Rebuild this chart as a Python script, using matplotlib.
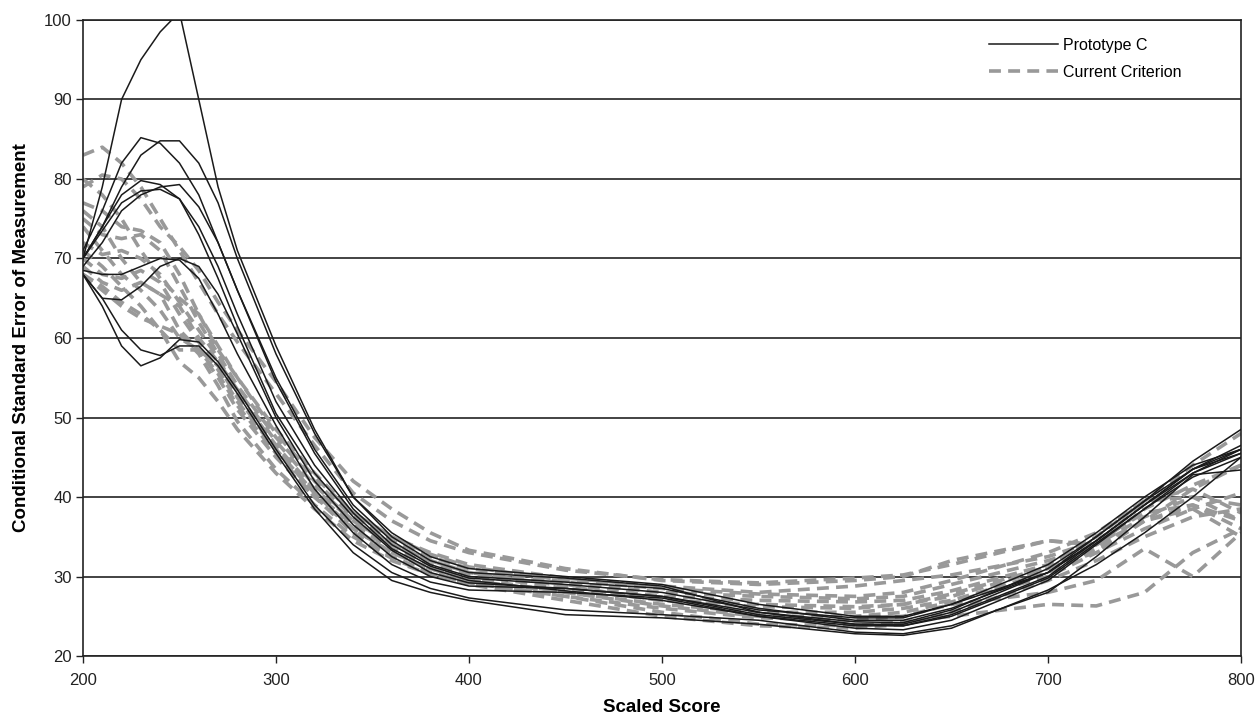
import matplotlib
matplotlib.use("Agg")
import matplotlib.pyplot as plt

plt.rcParams['font.family'] = ['Liberation Sans', 'DejaVu Sans']

# Scaled score grid at which curves were read
scores = [200, 210, 220, 230, 240, 250, 260, 270, 280, 300, 320, 340, 360, 380,
          400, 450, 500, 550, 600, 625, 650, 700, 725, 750, 775, 800]

# Prototype C (solid black) CSEM curves
proto_1 = [70, 79, 90, 95, 98.5, 101, 90, 79, 71, 59, 48.5, 40, 35.5, 32.5, 31, 30, 29, 26.5, 25, 25, 26.5, 30.5, 34.5, 39, 43.5, 46.5]
proto_2 = [71, 76, 82, 85.2, 84.5, 82, 78, 72, 66, 55, 46, 39, 34.5, 31.5, 30, 29.3, 28.5, 26, 24.5, 24.5, 26, 30.5, 34.5, 39, 43.5, 46]
proto_3 = [70, 74, 79, 83, 84.8, 84.8, 82, 77, 70, 58, 48, 40, 35, 32, 30.5, 29.8, 28.8, 25.5, 24.3, 24.2, 25.8, 31, 35, 39.5, 44.5, 48.5]
proto_4 = [70, 74, 78, 79.8, 79.3, 77.5, 73, 67.5, 61.5, 50.5, 43, 37.5, 33.3, 30.5, 29.2, 28.5, 27.5, 25.5, 24, 24, 25.5, 30.5, 35, 39.5, 43.5, 45.5]
proto_5 = [69, 72, 76, 78, 79, 79.3, 76.5, 72, 66, 54.5, 45.5, 38.5, 34, 31.3, 29.8, 29, 28, 25.8, 24.8, 24.8, 26.5, 31.5, 35.5, 40, 44, 46]
proto_6 = [70, 73.5, 77, 78.5, 78.7, 77.5, 74, 69, 63, 52, 44, 38, 33.5, 31, 29.5, 28.2, 27, 25, 23.8, 23.8, 25.2, 30, 34.5, 39, 43, 45.5]
proto_7 = [68.5, 68, 68, 69, 70, 69.8, 67.5, 63, 58, 49, 41, 35.5, 31.5, 29.3, 28.3, 28, 27.3, 25, 23.5, 23.3, 24.5, 29.5, 34, 38.5, 42.5, 45]
proto_8 = [68, 65, 64.8, 66.5, 69, 70, 69, 65.5, 60.5, 50, 42, 36.5, 32.5, 30, 28.8, 28.5, 27.5, 25.2, 24, 23.8, 25, 29.8, 34.2, 38.5, 43, 46]
proto_9 = [68, 64, 59, 56.5, 57.5, 59.8, 59.5, 57, 53.5, 46, 39, 34, 30.5, 28.5, 27.3, 25.8, 25.2, 24.5, 23, 22.8, 23.8, 28, 32.5, 37.5, 42.8, 43.4]
proto_10 = [68, 65, 61, 58.5, 57.8, 59, 59, 56.5, 53, 45.5, 38.5, 33, 29.5, 28, 27, 25.2, 24.8, 24, 22.8, 22.6, 23.5, 28.3, 31.5, 35.5, 40, 45]

# Current Criterion (dashed gray) CSEM curves
crit_1 = [83, 84, 82, 79, 75, 71, 67, 63, 59.5, 53, 46.5, 40.5, 37, 34.5, 33, 30.8, 29.6, 29.2, 29.8, 30.2, 31.5, 34.5, 34, 37.5, 40, 39]
crit_2 = [79, 80.5, 80, 77.5, 74, 71.5, 68.5, 64.5, 61, 54.5, 47.5, 42, 38.5, 35.5, 33.3, 31, 29.5, 29, 29.5, 30, 32, 34.5, 34, 39.5, 41, 38]
crit_3 = [77, 76, 74, 73.5, 72, 68, 63, 58.5, 55, 48.5, 43, 38, 35, 33, 31.5, 29.8, 28.8, 28, 28.8, 29.5, 30.2, 32.5, 34.5, 38, 39, 36]
crit_4 = [75, 73, 72.5, 73, 71, 66.5, 62, 58, 54, 47.5, 42, 37.5, 34.5, 32.5, 31, 29.3, 28, 27.5, 27.2, 27.5, 29, 32, 34, 37, 38.5, 40.5]
crit_5 = [72, 70.5, 71, 70, 68, 64.5, 61, 57.5, 53, 46.5, 41, 37, 34, 32, 30.5, 29, 27.5, 27, 26.8, 27, 28.2, 31.5, 35, 39.5, 44, 48]
crit_6 = [70, 68, 67.5, 68.5, 67, 63, 59.5, 56, 52, 46, 40.5, 36.5, 33.5, 31.5, 30.2, 28.5, 27, 26.2, 26, 26.5, 27.5, 31, 34, 38.5, 41.5, 44]
crit_7 = [69, 67, 66, 67, 65.5, 61, 58.5, 55, 51, 45, 40, 36, 33, 31, 29.8, 28, 26.5, 25.5, 25.5, 26, 27, 30.5, 33.5, 37, 39, 37]
crit_8 = [74, 71, 68, 66, 63.5, 60, 58.5, 56.5, 52.5, 46, 40.5, 36, 33, 31, 29.5, 28, 26.3, 25, 25, 25.5, 26.8, 30, 33, 36, 38.5, 35]
crit_9 = [68, 66.5, 64.5, 63, 61, 58.5, 58.5, 55.5, 51.5, 45.5, 40, 35.5, 32.5, 30.5, 29.3, 27.5, 26, 24.8, 24.5, 25, 26.5, 28, 29.5, 33.5, 30, 35.5]
crit_10 = [71, 69, 66.5, 64, 61, 57, 55, 52, 48.5, 43, 38.5, 34.5, 32, 30.3, 29.2, 27.5, 25.5, 24, 23.8, 24.3, 25, 26.5, 26.3, 28, 33, 36]
crit_11 = [68, 66, 64, 62.5, 61.5, 60.5, 58, 54, 49.5, 43.5, 39, 35, 32.3, 30.3, 29, 27, 25, 23.8, 23.5, 24, 25.5, 29.5, 32, 35, 37.5, 38.5]
crit_12 = [80, 78, 75, 71, 67.5, 65, 63, 59, 55, 48, 42.5, 38, 35, 32.8, 31.2, 29.5, 28.5, 27.8, 27.5, 28, 29.5, 33, 35.5, 39.5, 40, 37]
crit_13 = [76, 74, 70, 67, 65.5, 64, 60, 57, 53.5, 47, 41.5, 37, 34, 32, 30.5, 28.8, 27, 26.5, 26.2, 26.5, 27.8, 31.2, 33, 37, 41, 44]

prototype_curves = [proto_1, proto_2, proto_3, proto_4, proto_5, proto_6, proto_7, proto_8, proto_9, proto_10]
criterion_curves = [crit_1, crit_2, crit_3, crit_4, crit_5, crit_6, crit_7, crit_8, crit_9, crit_10, crit_11, crit_12, crit_13]

x_ticks = [200, 300, 400, 500, 600, 700, 800]
y_ticks = [20, 30, 40, 50, 60, 70, 80, 90, 100]

fig = plt.figure(figsize=(12.57, 7.19), dpi=100)
ax = fig.add_axes([0.066, 0.0876, 0.9213, 0.8846])

gray = '#999999'
for i, c in enumerate(criterion_curves):
    ax.plot(scores, c, color=gray, lw=2.6, dashes=(3.3, 2.0),
            label='Current Criterion' if i == 0 else None, zorder=2)
for i, c in enumerate(prototype_curves):
    ax.plot(scores, c, color='#1a1a1a', lw=1.1,
            label='Prototype C' if i == 0 else None, zorder=3)

ax.set_xlim(200, 800)
ax.set_ylim(20, 100)
ax.set_xticks(x_ticks)
ax.set_yticks(y_ticks)
ax.yaxis.grid(True, color='#222222', lw=1.2)
ax.set_axisbelow(True)
for s in ax.spines.values():
    s.set_color('#222222')
    s.set_linewidth(1.2)
ax.tick_params(axis='both', labelsize=12, colors='#222222', length=5, width=1.0, direction='out')
ax.tick_params(axis='y', pad=3)
ax.tick_params(axis='x', pad=7)

ax.set_xlabel('Scaled Score', fontsize=13.5, fontweight='bold', labelpad=8)
ax.set_ylabel('Conditional Standard Error of Measurement', fontsize=13.5, fontweight='bold', labelpad=10)

handles, labels = ax.get_legend_handles_labels()
order = [labels.index('Prototype C'), labels.index('Current Criterion')]
ax.legend([handles[i] for i in order], [labels[i] for i in order],
          loc='upper left', bbox_to_anchor=(0.77, 0.995), frameon=False,
          fontsize=11.5, handlelength=4.3, handletextpad=0.35, labelspacing=0.75)

fig.savefig('out.png', dpi=100)
